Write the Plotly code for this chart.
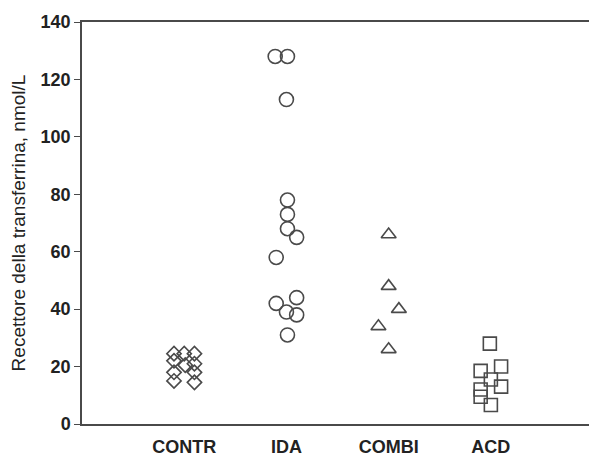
import plotly.graph_objects as go

categories = ["CONTR", "IDA", "COMBI", "ACD"]

contr_values = [24.5, 24.5, 24.5, 22, 20.5, 21, 18, 18, 15, 14.5]
contr_jitter = [-0.1, 0.0, 0.1, -0.1, 0.01, 0.1, -0.1, 0.1, -0.1, 0.1]

ida_values = [128, 128, 113, 78, 73, 68, 65, 58, 44, 42, 39, 38, 31]
ida_jitter = [-0.11, 0.01, 0.0, 0.01, 0.01, 0.01, 0.1, -0.1, 0.1, -0.1, 0.0, 0.1, 0.01]

combi_values = [66, 48, 40, 34, 26]
combi_jitter = [0.0, 0.0, 0.1, -0.1, 0.0]

acd_values = [28, 20, 18.5, 15.5, 13, 12, 9.5, 6.6]
acd_jitter = [-0.01, 0.1, -0.1, 0.0, 0.1, -0.1, -0.1, 0.0]

y_ticks = [0, 20, 40, 60, 80, 100, 120, 140]

groups = [
    (contr_values, contr_jitter, "diamond-open", 11),
    (ida_values, ida_jitter, "circle-open", 14),
    (combi_values, combi_jitter, "triangle-up-open", 13),
    (acd_values, acd_jitter, "square-open", 13),
]

line_col = "#4a4a4a"
fig = go.Figure()
for i, (vals, jit, sym, sz) in enumerate(groups):
    fig.add_trace(go.Scatter(
        x=[i + j for j in jit],
        y=vals,
        mode="markers",
        marker=dict(symbol=sym, size=sz, color=line_col, line=dict(width=1.6, color=line_col)),
        showlegend=False,
        hoverinfo="y",
        name=categories[i],
    ))

fig.update_layout(
    width=589, height=457,
    margin=dict(l=82, r=0, t=22, b=33),
    paper_bgcolor="white", plot_bgcolor="white",
    font=dict(family="Liberation Sans, Arial, sans-serif", color="#222"),
)
fig.update_xaxes(
    range=[-1.0, 3.96], automargin=False,
    tickvals=list(range(len(categories))), ticktext=categories,
    showgrid=False, zeroline=False,
    showline=True, linecolor=line_col, linewidth=1.5, mirror=True,
    ticks="", ticklabelstandoff=6,
    tickfont=dict(size=18, family="Liberation Sans, Arial, sans-serif", weight="bold"),
)
fig.update_yaxes(
    range=[0, 140], tickvals=y_ticks, automargin=False,
    showgrid=False, zeroline=False,
    showline=True, linecolor=line_col, linewidth=1.5,
    ticks="outside", ticklen=6, tickcolor=line_col, tickwidth=1,
    tickfont=dict(size=18, family="Liberation Sans, Arial, sans-serif", weight="bold"),
    title=dict(text="Recettore della transferrina, nmol/L", font=dict(size=19), standoff=10),
)

fig.write_html(
    "out.html",
    config={"displayModeBar": False},
    post_script="document.body.style.margin='0';document.body.style.overflow='hidden';",
)
